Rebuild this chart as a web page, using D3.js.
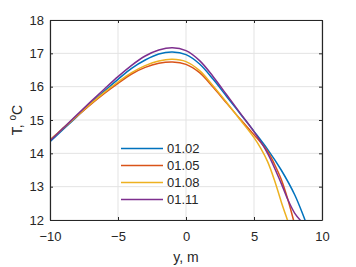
<!DOCTYPE html>
<html>
<head>
<meta charset="utf-8">
<script src="https://cdn.jsdelivr.net/npm/d3@7"></script>
<style>
  body { margin: 0; background: #fff; }
  svg { display: block; }
  text { font-family: "Liberation Sans", Arial, sans-serif; fill: #262626; }
</style>
</head>
<body>
<svg></svg>
<script>
// series names (legend)
var names = ["01.02", "01.05", "01.08", "01.11"];
var colors = ["#0072BD", "#D95319", "#EDB120", "#7E2F8E"];

// y positions (m) and temperatures
var yBlue   = [-10, -9, -8, -7, -6, -5, -4, -3, -2, -1, 0, 1, 2, 3, 4, 5, 6, 7, 8, 8.75, 9.5];
var tBlue   = [14.35, 14.73, 15.11, 15.5, 15.87, 16.22, 16.55, 16.8, 16.98, 17.04, 16.96, 16.68, 16.22, 15.7, 15.18, 14.66, 14.12, 13.5, 12.75, 12.0, 11.2];

var yOrange = [-10, -9, -8, -7, -6, -5, -4, -3, -2, -1, 0, 1, 2, 3, 4, 5, 6, 6.5, 7, 7.5, 8, 8.5];
var tOrange = [14.4, 14.76, 15.12, 15.47, 15.8, 16.1, 16.38, 16.58, 16.7, 16.74, 16.67, 16.42, 15.98, 15.5, 15.02, 14.56, 14.06, 13.68, 13.22, 12.6, 11.85, 11.05];

var yYellow = [-10, -9, -8, -7, -6, -5, -4, -3, -2, -1, 0, 1, 2, 3, 4, 5, 5.5, 6, 6.5, 7, 7.5, 8];
var tYellow = [14.4, 14.77, 15.13, 15.49, 15.83, 16.14, 16.42, 16.63, 16.77, 16.82, 16.75, 16.48, 16.02, 15.52, 15.0, 14.47, 14.15, 13.75, 13.2, 12.55, 11.95, 11.35];

var yPurple = [-10, -9, -8, -7, -6, -5, -4, -3, -2, -1, 0, 1, 2, 3, 4, 5, 6, 7, 7.5, 8, 8.5];
var tPurple = [14.38, 14.77, 15.16, 15.55, 15.93, 16.3, 16.64, 16.92, 17.1, 17.17, 17.08, 16.78, 16.3, 15.75, 15.2, 14.65, 14.0, 13.1, 12.6, 12.2, 11.95];

var xTicks = [-10, -5, 0, 5, 10];
var yTicks = [12, 13, 14, 15, 16, 17, 18];

var width = 356;
var height = 267;
var margin = {left: 50, right: 34, top: 20, bottom: 47};

var svg = d3.select("svg")
            .attr("width", width)
            .attr("height", height);

var x = d3.scaleLinear().domain([-10, 10]).range([margin.left, width - margin.right]);
var y = d3.scaleLinear().domain([12, 18]).range([height - margin.bottom, margin.top]);

var series = [
  {name: names[0], color: colors[0], ys: yBlue, ts: tBlue},
  {name: names[1], color: colors[1], ys: yOrange, ts: tOrange},
  {name: names[2], color: colors[2], ys: yYellow, ts: tYellow},
  {name: names[3], color: colors[3], ys: yPurple, ts: tPurple}
];

// grid
svg.append("g").selectAll("line")
  .data(xTicks)
  .enter().append("line")
  .attr("x1", function(d) { return x(d); })
  .attr("x2", function(d) { return x(d); })
  .attr("y1", y(12)).attr("y2", y(18))
  .attr("stroke", "#e3e3e3").attr("stroke-width", 1);

svg.append("g").selectAll("line")
  .data(yTicks)
  .enter().append("line")
  .attr("y1", function(d) { return y(d); })
  .attr("y2", function(d) { return y(d); })
  .attr("x1", x(-10)).attr("x2", x(10))
  .attr("stroke", "#e3e3e3").attr("stroke-width", 1);

svg.append("clipPath").attr("id", "clip")
  .append("rect")
  .attr("x", x(-10)).attr("y", y(18))
  .attr("width", x(10) - x(-10)).attr("height", y(12) - y(18));

var line = d3.line()
  .x(function(d) { return x(d[0]); })
  .y(function(d) { return y(d[1]); })
  .curve(d3.curveCatmullRom);

svg.append("g").attr("clip-path", "url(#clip)")
  .selectAll("path")
  .data(series)
  .enter().append("path")
  .attr("d", function(s) { return line(d3.zip(s.ys, s.ts)); })
  .attr("fill", "none")
  .attr("stroke", function(s) { return s.color; })
  .attr("stroke-width", 1.5);

// axes (MATLAB style, ticks inside, box on)
var xAxis = d3.axisBottom(x).tickValues(xTicks).tickFormat(d3.format("d"))
  .tickSizeInner(-3).tickSizeOuter(0).tickPadding(12);
var yAxis = d3.axisLeft(y).tickValues(yTicks).tickFormat(d3.format("d"))
  .tickSizeInner(-3).tickSizeOuter(0).tickPadding(6);

var gx = svg.append("g").attr("transform", "translate(0," + y(12) + ")").call(xAxis);
var gy = svg.append("g").attr("transform", "translate(" + x(-10) + ",0)").call(yAxis);
var gxt = svg.append("g").attr("transform", "translate(0," + y(18) + ")")
  .call(d3.axisTop(x).tickValues(xTicks).tickSizeInner(-3).tickSizeOuter(0).tickFormat(""));
var gyr = svg.append("g").attr("transform", "translate(" + x(10) + ",0)")
  .call(d3.axisRight(y).tickValues(yTicks).tickSizeInner(-3).tickSizeOuter(0).tickFormat(""));

[gx, gy, gxt, gyr].forEach(function(g) {
  g.select(".domain").attr("stroke", "#262626").attr("stroke-width", 1.2);
  g.selectAll(".tick line").attr("stroke", "#262626");
  g.selectAll("text").attr("font-size", 13).attr("fill", "#262626")
    .attr("font-family", "Liberation Sans, Arial, sans-serif");
});

// axis labels
svg.append("text")
  .attr("x", (x(-10) + x(10)) / 2)
  .attr("y", 262)
  .attr("text-anchor", "middle")
  .attr("font-size", 14)
  .text("y, m");

var yl = svg.append("text")
  .attr("transform", "translate(22," + ((y(12) + y(18)) / 2) + ") rotate(-90)")
  .attr("text-anchor", "middle")
  .attr("font-size", 14);
yl.append("tspan").text("T, ");
yl.append("tspan").attr("font-size", 10).attr("dy", -6).text("o");
yl.append("tspan").attr("dy", 6).text("C");

// legend
var legend = svg.append("g").selectAll("g")
  .data(series)
  .enter().append("g")
  .attr("transform", function(d, i) { return "translate(121," + (148.5 + i * 17) + ")"; });

legend.append("line")
  .attr("x1", 0).attr("x2", 42)
  .attr("stroke", function(d) { return d.color; })
  .attr("stroke-width", 1.5);

legend.append("text")
  .attr("x", 46).attr("y", 4.5)
  .attr("font-size", 13)
  .text(function(d) { return d.name; });
</script>
</body>
</html>
